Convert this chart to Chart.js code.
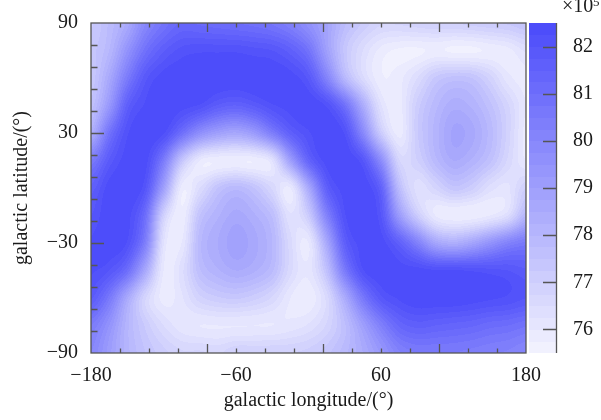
<!DOCTYPE html>
<html>
<head>
<meta charset="utf-8">
<script src="https://cdn.jsdelivr.net/npm/chart.js@4.4.1/dist/chart.umd.min.js"></script>
<style>
html,body{margin:0;padding:0;background:#fff;}
#wrap{width:601px;height:420px;}
</style>
</head>
<body>
<div id="wrap"><canvas id="c" width="601" height="420"></canvas></div>
<script>
// ---- data (values in units of 1e5) ----
const lons = [-180,-165,-150,-135,-120,-105,-90,-75,-60,-45,-30,-15,0,15,30,45,60,75,90,105,120,135,150,165,180];
const lats = [90,75,60,45,30,15,0,-15,-30,-45,-60,-75,-90];

const latN90 = [77.2,77.8,78.6,80.0,80.8,81.3,81.2,81.1,81.0,80.9,80.7,80.3,79.6,78.8,77.8,77.2,76.8,76.8,76.9,77.0,77.0,77.1,77.2,77.3,77.5];
const latN75 = [77.4,78.0,79.5,80.9,81.7,82.1,82.2,82.2,82.2,82.1,82.0,81.6,80.8,79.0,77.4,76.5,75.9,75.7,75.7,75.8,75.7,75.7,75.8,75.9,76.3];
const latN60 = [77.3,78.6,80.5,81.9,82.4,82.5,82.5,82.5,82.5,82.5,82.5,82.4,81.9,80.2,78.0,76.6,75.8,75.9,76.5,77.3,77.6,77.5,76.9,76.1,75.9];
const latN45 = [77.6,79.3,81.6,82.3,82.5,82.4,82.2,81.7,81.5,81.8,82.2,82.4,82.5,82.2,80.9,78.5,76.3,75.9,77.1,77.9,78.4,78.2,77.6,76.8,76.0];
const latN30 = [78.4,80.8,82.2,82.5,82.3,81.0,79.7,79.0,78.7,79.2,80.4,81.6,82.2,82.5,82.2,80.0,77.2,75.9,77.2,78.1,78.8,78.6,77.9,76.9,75.9];
const latN15 = [80.5,81.8,82.4,82.4,80.5,77.5,76.0,75.8,75.8,75.8,76.3,79.0,81.4,82.4,82.5,82.0,79.8,76.8,77.0,77.9,78.5,78.2,77.6,76.7,76.0];
const lat0   = [81.6,82.4,82.5,82.0,79.0,75.9,76.5,77.5,77.9,77.5,76.7,76.0,78.6,81.6,82.4,82.5,81.5,77.8,76.4,76.8,77.4,77.1,76.4,76.2,77.0];
const latS15 = [82.0,82.5,82.4,81.0,77.0,75.8,77.5,78.2,78.6,78.3,77.7,76.3,77.2,80.2,82.2,82.5,82.0,79.2,77.2,76.0,75.8,75.8,76.0,76.5,78.0];
const latS30 = [82.3,82.5,82.2,80.3,76.3,76.0,77.9,78.5,78.9,78.6,78.0,76.6,76.0,78.6,81.6,82.4,82.4,81.6,80.3,78.8,78.4,78.8,79.5,80.2,80.6];
const latS45 = [82.3,82.0,81.0,78.6,76.0,76.4,77.7,78.2,78.5,78.3,77.8,76.6,76.1,77.6,80.5,82.2,82.5,82.4,82.4,82.3,82.3,82.2,82.1,82.0,81.8];
const latS60 = [81.8,80.6,78.6,76.8,75.9,76.2,76.9,77.2,77.3,77.1,76.7,76.0,75.8,76.6,78.5,80.6,81.9,82.3,82.5,82.5,82.5,82.4,82.3,82.2,82.0];
const latS75 = [80.5,79.5,78.1,77.2,76.5,76.1,76.0,76.0,76.0,76.0,76.0,76.1,76.3,76.8,77.7,79.0,80.3,81.3,81.6,81.5,81.4,81.3,81.1,81.0,80.8];
const latS90 = [80.0,79.1,78.1,77.5,77.1,76.8,76.8,76.7,77.0,77.0,77.0,77.0,77.1,77.4,77.9,78.5,79.3,80.2,80.5,80.5,80.5,80.4,80.3,80.2,80.0];

const grid = [latN90,latN75,latN60,latN45,latN30,latN15,lat0,latS15,latS30,latS45,latS60,latS75,latS90];

// axis ticks
const lonTicks  = [-180,-156,-132,-108,-84,-60,-36,-12,12,36,60,84,108,132,156,180];
const lonLabels = [-180,-60,60,180];
const lonMajor  = [-84,12,108];
const latTicks  = [90,78,66,54,42,30,18,6,-6,-18,-30,-42,-54,-66,-78,-90];
const latLabels = [90,30,-30,-90];
const latMajor  = [30,-30];
const cbarTicks = [76,77,78,79,80,81,82];
const cbarMin = 75.5, cbarMax = 82.5, cbarStep = 0.25;

// ---- rendering ----
const lowC = [244,244,254], highC = [74,74,250];
const nBands = Math.round((cbarMax - cbarMin) / cbarStep);
function bandColor(k){
  const t = (k + 0.5) / nBands;
  return lowC.map((c,n) => Math.round(c + (highC[n]-c)*t));
}
function catmull(p0,p1,p2,p3,t){
  return p1 + 0.5*t*(p2-p0 + t*(2*p0-5*p1+4*p2-p3 + t*(3*(p1-p2)+p3-p0)));
}
function sampleGrid(fi,fj){
  const nI = lons.length, nJ = lats.length;
  const i1 = Math.floor(fi), j1 = Math.floor(fj);
  const tx = fi - i1, ty = fj - j1;
  const val = (i,j) => grid[Math.min(nJ-1,Math.max(0,j))][Math.min(nI-1,Math.max(0,i))];
  const r = [];
  for (let m=-1;m<=2;m++){
    const j = j1+m;
    r.push(catmull(val(i1-1,j),val(i1,j),val(i1+1,j),val(i1+2,j),tx));
  }
  return catmull(r[0],r[1],r[2],r[3],ty);
}

const heatmapPlugin = {
  id: 'heatmap',
  beforeDatasetsDraw(chart){
    const {ctx, chartArea: a} = chart;
    const xs = chart.scales.x, ys = chart.scales.y;
    const L = Math.round(a.left), T = Math.round(a.top);
    const W = Math.round(a.right) - L, H = Math.round(a.bottom) - T;
    const off = document.createElement('canvas');
    off.width = W; off.height = H;
    const octx = off.getContext('2d');
    const img = octx.createImageData(W,H);
    const dLon = lons[1]-lons[0], dLat = lats[0]-lats[1];
    const colors = [];
    for (let k=0;k<nBands;k++) colors.push(bandColor(k));
    for (let py=0; py<H; py++){
      const lat = ys.getValueForPixel(T+py+0.5);
      const fj = (lats[0]-lat)/dLat;
      for (let px=0; px<W; px++){
        const lon = xs.getValueForPixel(L+px+0.5);
        const fi = (lon-lons[0])/dLon;
        const v = sampleGrid(fi,fj);
        let k = Math.floor((v-cbarMin)/cbarStep);
        k = Math.max(0, Math.min(nBands-1, k));
        const c = colors[k];
        const o = (py*W+px)*4;
        img.data[o]=c[0]; img.data[o+1]=c[1]; img.data[o+2]=c[2]; img.data[o+3]=255;
      }
    }
    octx.putImageData(img,0,0);
    ctx.drawImage(off,L,T);
  },
  afterDatasetsDraw(chart){
    const {ctx, chartArea: a} = chart;
    const xs = chart.scales.x, ys = chart.scales.y, cs = chart.scales.cbar;
    ctx.save();
    ctx.strokeStyle = '#555';
    ctx.lineWidth = 1.3;
    ctx.strokeRect(a.left, a.top, a.right-a.left, a.bottom-a.top);
    ctx.beginPath();
    lonTicks.forEach(v => {
      if (v === lonTicks[0] || v === lonTicks[lonTicks.length-1]) return;
      const px = Math.round(xs.getPixelForValue(v)) + 0.5;
      const len = lonMajor.includes(v) ? 9 : 4.5;
      ctx.moveTo(px, a.bottom); ctx.lineTo(px, a.bottom-len);
      ctx.moveTo(px, a.top); ctx.lineTo(px, a.top+len);
    });
    latTicks.forEach(v => {
      if (v === latTicks[0] || v === latTicks[latTicks.length-1]) return;
      const py = Math.round(ys.getPixelForValue(v)) + 0.5;
      const len = latMajor.includes(v) ? 13 : 6.5;
      ctx.moveTo(a.left, py); ctx.lineTo(a.left+len, py);
    });
    ctx.stroke();

    // colour bar
    const bx0 = a.right + 3, bx1 = a.right + 30;
    for (let k=0;k<nBands;k++){
      const yTop = cs.getPixelForValue(cbarMin + (k+1)*cbarStep);
      const yBot = cs.getPixelForValue(cbarMin + k*cbarStep);
      const c = bandColor(k);
      ctx.fillStyle = `rgb(${c[0]},${c[1]},${c[2]})`;
      ctx.fillRect(bx0, Math.floor(yTop), bx1-bx0, Math.ceil(yBot)-Math.floor(yTop));
    }
    ctx.beginPath();
    ctx.moveTo(bx1+0.5, a.top); ctx.lineTo(bx1+0.5, a.bottom);
    cbarTicks.forEach(v => {
      const py = Math.round(cs.getPixelForValue(v)) + 0.5;
      ctx.moveTo(bx1, py); ctx.lineTo(bx1-13, py);
    });
    ctx.stroke();

    // exponent label
    ctx.fillStyle = '#1a1a1a';
    ctx.textBaseline = 'alphabetic';
    ctx.textAlign = 'left';
    ctx.font = "20px 'Liberation Serif', 'Times New Roman', serif";
    ctx.fillText('\u00d710', 562, 12);
    ctx.font = "13px 'Liberation Serif', 'Times New Roman', serif";
    ctx.fillText('5', 593, 6);
    ctx.restore();
  }
};

const fmt = v => (v < 0 ? '\u2212' + Math.abs(v) : String(v));
const points = [];
lats.forEach((la,j) => lons.forEach((lo,i) => points.push({x: lo, y: la, v: grid[j][i]})));

Chart.defaults.font.family = "'Liberation Serif', 'Times New Roman', serif";
Chart.defaults.font.size = 20;
Chart.defaults.color = '#1a1a1a';

const hiddenTicks = len => ({ display: true, drawOnChartArea: false, drawTicks: true, tickLength: len, color: 'rgba(0,0,0,0)' });

new Chart(document.getElementById('c'), {
  type: 'scatter',
  data: { datasets: [{ data: points, pointRadius: 0, pointHoverRadius: 0, showLine: false }] },
  plugins: [heatmapPlugin],
  options: {
    responsive: false,
    animation: false,
    events: [],
    layout: { padding: { top: 23, right: 0, left: 0, bottom: 0 } },
    plugins: { legend: { display: false }, tooltip: { enabled: false } },
    scales: {
      x: {
        type: 'linear', position: 'bottom', min: -180, max: 180,
        afterBuildTicks: s => { s.ticks = lonTicks.map(v => ({value: v})); },
        afterFit: s => { s.height = 67; },
        grid: hiddenTicks(9),
        border: { display: false },
        ticks: { autoSkip: false, maxRotation: 0, padding: 2,
          callback: v => lonLabels.includes(v) ? fmt(v) : '' },
        title: { display: true, text: 'galactic longitude/(\u00b0)', padding: { top: 0, bottom: 7 } }
      },
      y: {
        type: 'linear', position: 'left', min: -90, max: 90,
        afterBuildTicks: s => { s.ticks = latTicks.map(v => ({value: v})); },
        afterFit: s => { s.width = 91; },
        grid: hiddenTicks(11),
        border: { display: false },
        ticks: { autoSkip: false, padding: 2,
          callback: v => latLabels.includes(v) ? fmt(v) : '' },
        title: { display: true, text: 'galactic latitude/(\u00b0)', padding: { top: 10, bottom: 0 } }
      },
      cbar: {
        type: 'linear', position: 'right', min: cbarMin, max: cbarMax,
        afterBuildTicks: s => { s.ticks = cbarTicks.map(v => ({value: v})); },
        afterFit: s => { s.width = 75; },
        grid: hiddenTicks(45),
        border: { display: false },
        ticks: { autoSkip: false, padding: 2, callback: v => String(v) }
      }
    }
  }
});
</script>
</body>
</html>
